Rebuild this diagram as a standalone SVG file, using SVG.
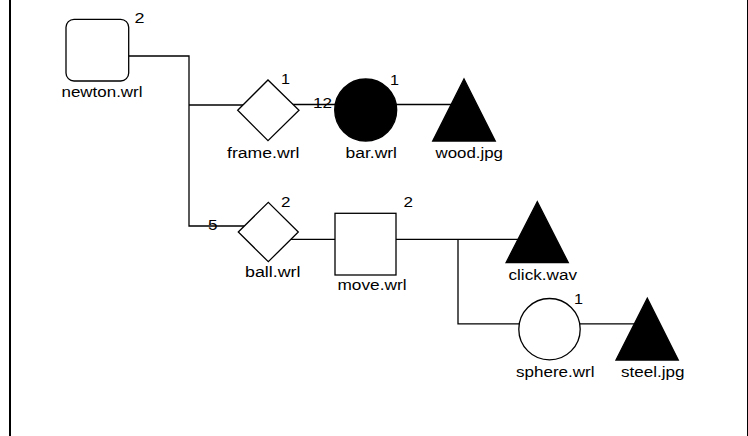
<svg xmlns="http://www.w3.org/2000/svg" width="748" height="436" viewBox="0 0 748 436">
<style>
.bg{fill:#fff}
.ln{fill:none;stroke:#000;stroke-width:1.3}
.sh{fill:#fff;stroke:#000;stroke-width:1.3}
.fl{fill:#000;stroke:#000;stroke-width:1.3}
text{font-family:"Liberation Sans",Arial,sans-serif;font-size:14px;fill:#000}
</style>
<rect class="bg" x="0" y="0" width="748" height="436"/>
<g id="frame-border">
<line x1="10" y1="0" x2="10" y2="436" stroke="#000" stroke-width="2"/>
<line x1="747.5" y1="0" x2="747.5" y2="436" stroke="#000" stroke-width="1"/>
</g>
<g id="connectors">
<path class="ln" d="M128.7 56 H189 V226 H250"/>
<path class="ln" d="M189 105 H268"/>
<path class="ln" d="M268 104.5 H464"/>
<path class="ln" d="M268 239.3 H537"/>
<path class="ln" d="M458 239.3 V323.8 H647"/>
</g>
<g id="newton">
<rect class="sh" x="66" y="19.3" width="62.7" height="61.7" rx="8"/>
<text x="61.5" y="97" textLength="81" lengthAdjust="spacingAndGlyphs">newton.wrl</text>
<text x="134.5" y="23.3" textLength="10" lengthAdjust="spacingAndGlyphs">2</text>
</g>
<g id="frame">
<polygon class="sh" points="237.7,110.3 268,80 299,110.3 268,140.7"/>
<text x="227" y="157.5" textLength="72.5" lengthAdjust="spacingAndGlyphs">frame.wrl</text>
<text x="281" y="84" textLength="9" lengthAdjust="spacingAndGlyphs">1</text>
</g>
<g id="bar">
<circle class="fl" cx="365.7" cy="110" r="31"/>
<text x="313" y="107.5" textLength="19" lengthAdjust="spacingAndGlyphs">12</text>
<text x="345.5" y="157.5" textLength="51.5" lengthAdjust="spacingAndGlyphs">bar.wrl</text>
<text x="390" y="85" textLength="9" lengthAdjust="spacingAndGlyphs">1</text>
</g>
<g id="wood">
<polygon class="fl" points="432.7,141 464,79 495.3,141"/>
<text x="435.5" y="157.5" textLength="67.5" lengthAdjust="spacingAndGlyphs">wood.jpg</text>
</g>
<g id="ball">
<polygon class="sh" points="238.3,232 268.3,202.3 298.3,232 268.3,261.7"/>
<text x="208" y="230" textLength="9.5" lengthAdjust="spacingAndGlyphs">5</text>
<text x="245" y="277" textLength="55.5" lengthAdjust="spacingAndGlyphs">ball.wrl</text>
<text x="281" y="206.7" textLength="9.5" lengthAdjust="spacingAndGlyphs">2</text>
</g>
<g id="move">
<rect class="sh" x="335" y="213.3" width="61" height="61.7"/>
<text x="337.5" y="290" textLength="69" lengthAdjust="spacingAndGlyphs">move.wrl</text>
<text x="403.5" y="206.7" textLength="9.5" lengthAdjust="spacingAndGlyphs">2</text>
</g>
<g id="click">
<polygon class="fl" points="506,262.7 537.3,201.7 568.3,262.7"/>
<text x="508.5" y="280" textLength="68.5" lengthAdjust="spacingAndGlyphs">click.wav</text>
</g>
<g id="sphere">
<circle class="sh" cx="549.5" cy="329.2" r="30.7"/>
<text x="516" y="377" textLength="78.5" lengthAdjust="spacingAndGlyphs">sphere.wrl</text>
<text x="574" y="304" textLength="9" lengthAdjust="spacingAndGlyphs">1</text>
</g>
<g id="steel">
<polygon class="fl" points="616,360 647.3,298.3 678.3,360"/>
<text x="621" y="377" textLength="63.5" lengthAdjust="spacingAndGlyphs">steel.jpg</text>
</g>
</svg>
